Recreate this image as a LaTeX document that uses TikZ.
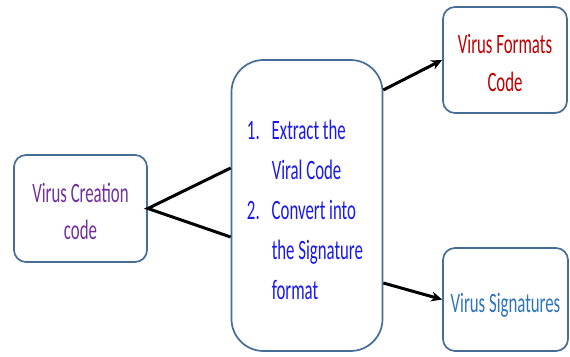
\documentclass[tikz,border=0pt]{standalone}
\usepackage{fontspec}
\setmainfont{Carlito}
\usetikzlibrary{arrows.meta,calc}
\definecolor{edgeblue}{RGB}{70,108,152}
\definecolor{txtpurple}{RGB}{112,48,160}
\definecolor{txtred}{RGB}{192,0,0}
\definecolor{txtblue}{RGB}{25,25,240}
\definecolor{txtsky}{RGB}{46,117,190}
\newcommand\tallbox[1]{\scalebox{1}[1.67]{\fontsize{16.8}{22.5}\selectfont\begin{tabular}{@{}c@{}}\rule{0pt}{21.8pt}#1\end{tabular}}}
\begin{document}
\begin{tikzpicture}[x=1pt,y=1pt,
  box/.style={draw=edgeblue,line width=1.7pt,fill=white,rounded corners=12pt,inner sep=0pt},
  link/.style={line width=3pt,black,line join=miter},
  arr/.style={link,-{Stealth[length=11pt,width=10pt]}}]
\useasboundingbox (0,0) rectangle (570,356);
\node[box,minimum width=133pt,minimum height=107pt,text=txtpurple] (create) at (80.5,147.5) {\tallbox{Virus Creation\\code}};
\node[box,rounded corners=32pt,minimum width=151pt,minimum height=291pt] (proc) at (307,150.5) {};
\node[text=txtblue,inner sep=0pt] (steps) at (305,144.5) {\scalebox{1}[1.67]{\fontsize{16.8}{24}\selectfont\begin{tabular}{@{}l@{\hspace{12pt}}l@{}}1. & Extract the\\ & Viral Code\\ 2. & Convert into\\ & the Signature\\ & format\end{tabular}}};
\node[box,minimum width=124pt,minimum height=106pt,text=txtred] (fmt) at (505,296) {\tallbox{Virus Formats\\Code}};
\node[box,minimum width=125pt,minimum height=103pt,text=txtsky] (sig) at (505.5,56.5) {\tallbox{Virus Signatures}};
\draw[link] ($(proc.west)+(0,37.5)$) -- (create.east) -- ($(proc.west)+(0,-31.5)$);
\draw[arr] ($(proc.east)+(0,115.5)$) -- (fmt.west);
\draw[arr] ($(proc.east)+(0,-77.5)$) -- (sig.west);
\end{tikzpicture}
\end{document}
